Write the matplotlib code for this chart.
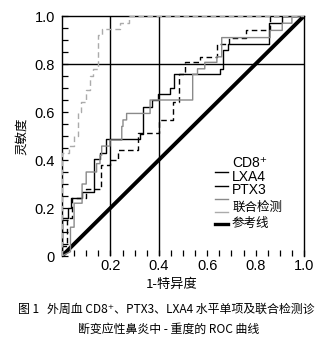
import matplotlib
matplotlib.use("Agg")
import matplotlib.pyplot as plt
from matplotlib.lines import Line2D

plt.rcParams['font.family'] = ['Noto Sans CJK SC', 'DejaVu Sans']

# ROC vertices (1-specificity, sensitivity)
cd8_fpr = [0, 0, 0.025, 0.025, 0.037, 0.037, 0.083, 0.083, 0.133, 0.133, 0.157, 0.157,
           0.18, 0.18, 0.322, 0.322, 0.336, 0.336, 0.37, 0.37, 0.396, 0.396, 0.446, 0.446,
           0.463, 0.463, 0.653, 0.653, 0.667, 0.667, 0.687, 0.687, 0.855, 0.855, 0.91,
           0.91, 1.0]
cd8_tpr = [0, 0.158, 0.158, 0.20, 0.20, 0.24, 0.24, 0.268, 0.268, 0.404, 0.404, 0.43,
           0.43, 0.486, 0.486, 0.51, 0.51, 0.62, 0.62, 0.65, 0.65, 0.675, 0.675, 0.70,
           0.70, 0.758, 0.758, 0.78, 0.78, 0.86, 0.86, 0.882, 0.882, 0.97, 0.97,
           1.0, 1.0]

ptx3_fpr = [0, 0, 0.02, 0.02, 0.04, 0.04, 0.10, 0.10, 0.16, 0.16, 0.20, 0.20, 0.23,
            0.23, 0.315, 0.315, 0.40, 0.40, 0.46, 0.46, 0.485, 0.485, 0.508, 0.508,
            0.57, 0.57, 0.64, 0.64, 0.69, 0.69, 0.76, 0.76, 0.86, 0.86, 1.0]
ptx3_tpr = [0, 0.04, 0.04, 0.16, 0.16, 0.24, 0.24, 0.28, 0.28, 0.38, 0.38, 0.40, 0.40,
            0.44, 0.44, 0.514, 0.514, 0.567, 0.567, 0.643, 0.643, 0.757, 0.757, 0.807,
            0.807, 0.83, 0.83, 0.882, 0.882, 0.91, 0.91, 0.94, 0.94, 1.0, 1.0]

lxa4_fpr = [0, 0.035, 0.035, 0.05, 0.05, 0.083, 0.083, 0.10, 0.10, 0.143, 0.143, 0.157,
            0.157, 0.164, 0.164, 0.198, 0.198, 0.247, 0.247, 0.252, 0.252, 0.267, 0.267,
            0.364, 0.364, 0.54, 0.54, 0.56, 0.56, 0.59, 0.59, 0.64, 0.64, 0.66, 0.66,
            0.86, 0.86, 0.91, 0.91, 0.95, 0.95, 1.0]
lxa4_tpr = [0, 0.018, 0.12, 0.12, 0.22, 0.22, 0.30, 0.30, 0.35, 0.35, 0.385, 0.385,
            0.42, 0.42, 0.458, 0.458, 0.483, 0.483, 0.54, 0.54, 0.567, 0.567, 0.594,
            0.594, 0.65, 0.65, 0.757, 0.757, 0.78, 0.78, 0.807, 0.807, 0.83, 0.83,
            0.91, 0.91, 0.94, 0.94, 0.97, 0.97, 1.0, 1.0]

combo_fpr = [0, 0, 0.03, 0.03, 0.05, 0.05, 0.065, 0.065, 0.08, 0.08, 0.10, 0.10, 0.115,
             0.115, 0.13, 0.13, 0.147, 0.147, 0.165, 0.165, 0.24, 0.24, 0.275, 0.275, 1.0]
combo_tpr = [0, 0.43, 0.43, 0.46, 0.46, 0.50, 0.50, 0.60, 0.60, 0.64, 0.64, 0.69, 0.69,
             0.75, 0.75, 0.78, 0.78, 0.92, 0.92, 0.946, 0.946, 0.97, 0.97, 1.0, 1.0]

ref_line = [0, 1]

legend_labels = ["CD8⁺", "LXA4", "PTX3", "联合检测", "参考线"]
x_ticks = [0.2, 0.4, 0.6, 0.8, 1.0]
y_ticks = [0, 0.2, 0.4, 0.6, 0.8, 1.0]

NARROW = ['Liberation Sans Narrow', 'Liberation Sans', 'DejaVu Sans']

fig = plt.figure(figsize=(3.29, 3.40), dpi=100)
ax = fig.add_axes([62 / 329, 84 / 340, 242 / 329, 240 / 340])

gray = "#8a8a8a"
light = "#ababab"
ax.plot(ref_line, ref_line, color="black", lw=2.8, solid_capstyle="butt", zorder=3)
ax.plot(cd8_fpr, cd8_tpr, color="black", lw=1.0, zorder=4)
ax.plot(ptx3_fpr, ptx3_tpr, color="black", lw=1.0, ls=(0, (4, 2.5)), zorder=4)
ax.plot(lxa4_fpr, lxa4_tpr, color=gray, lw=1.0, zorder=4)
ax.plot(combo_fpr, combo_tpr, color=light, lw=1.0, ls=(0, (4, 2.5)), zorder=4)

# reference grid lines
for gx in (0.2, 0.4):
    ax.axvline(gx, color="black", lw=1.0, zorder=2)
ax.axhline(0.8, color="black", lw=1.0, zorder=2)

ax.set_xlim(0, 1)
ax.set_ylim(0, 1)
ax.spines["bottom"].set_visible(False)
for s in ("left", "right", "top"):
    ax.spines[s].set_linewidth(1.0)

minor = [i * 0.05 for i in range(21)]
ax.set_xticks(minor, minor=True)
ax.set_yticks(minor, minor=True)
ax.set_xticks(x_ticks)
ax.set_yticks(y_ticks)
ax.set_xticklabels(["0.2", "0.4", "0.6", "0.8", "1.0"])
ax.set_yticklabels(["0", "0.2", "0.4", "0.6", "0.8", "1.0"])
ax.tick_params(axis="both", which="both", direction="in", length=4, width=0.9,
               labelsize=10.5, colors="black")
ax.tick_params(axis="x", pad=2)
ax.tick_params(axis="y", pad=5, right=False)
for lab in ax.get_xticklabels() + ax.get_yticklabels():
    lab.set_family(NARROW)

ax.set_xlabel("1-特异度", fontsize=9.5, va="center")
ax.xaxis.set_label_coords(0.455, -0.117)
ax.set_ylabel("灵敏度", fontsize=9, labelpad=5)

# legend drawn by hand: handles sit between the text rows
handles = [("black", 1.0, 171.5), ("black", 1.0, 186), (gray, 1.0, 198.5),
           (light, 1.0, 211.5), ("black", 2.4, 224)]
for color, lw, py in handles:
    fig.add_artist(Line2D([215 / 329, 228 / 329], [1 - py / 340, 1 - py / 340],
                          color=color, lw=lw))
text_rows = [163, 177, 190, 207, 223]
for label, py in zip(legend_labels, text_rows):
    cjk = not label[0].isascii()
    fig.text(232 / 329, 1 - py / 340, label, fontsize=9 if cjk else 10,
             family=['Noto Sans CJK SC'] if cjk else NARROW, va="center", ha="left")

fig.text(18 / 329, 1 - 309 / 340, "图 1   外周血 CD8⁺、PTX3、LXA4 水平单项及联合检测诊",
         fontsize=8.6, va="center", ha="left")
fig.text(169 / 329, 1 - 329 / 340, "断变应性鼻炎中 - 重度的 ROC 曲线",
         fontsize=8.6, va="center", ha="center")

fig.savefig("out.png", dpi=100)
